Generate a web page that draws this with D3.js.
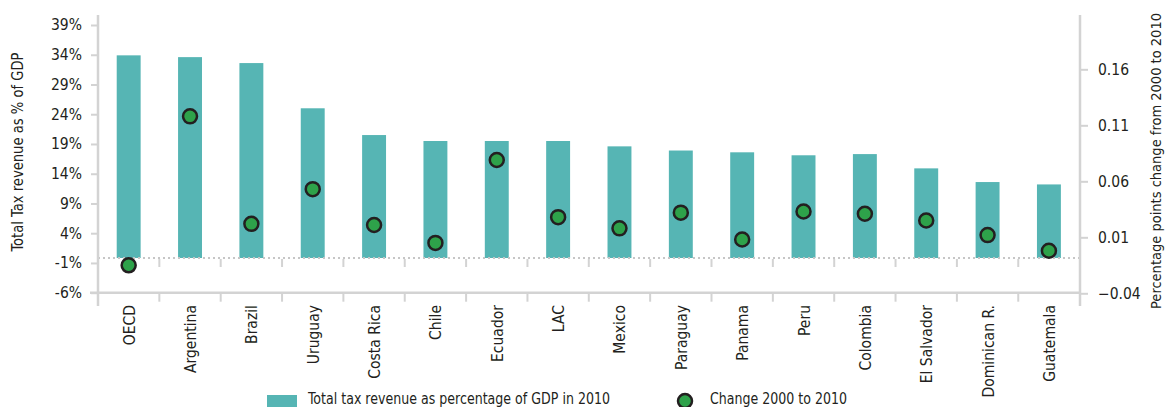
<!DOCTYPE html>
<html>
<head>
<meta charset="utf-8">
<script src="https://cdn.jsdelivr.net/npm/d3@7"></script>
<style>
  html, body { margin: 0; padding: 0; background: #fff; }
  svg { display: block; }
  text { font-family: 'Liberation Sans Narrow', 'DejaVu Sans Condensed', 'DejaVu Sans', sans-serif; font-stretch: condensed; fill: #231f20; }
</style>
</head>
<body>
<svg id="chart" width="1170" height="407"></svg>
<script>
const categories = ["OECD","Argentina","Brazil","Uruguay","Costa Rica","Chile","Ecuador","LAC","Mexico","Paraguay","Panama","Peru","Colombia","El Salvador","Dominican R.","Guatemala"];
const taxRevenue2010 = [33.9, 33.6, 32.6, 25.0, 20.5, 19.5, 19.5, 19.5, 18.6, 17.9, 17.6, 17.1, 17.3, 14.9, 12.6, 12.2];
const change2000to2010 = [-0.015, 0.118, 0.022, 0.053, 0.021, 0.005, 0.079, 0.028, 0.018, 0.032, 0.008, 0.033, 0.031, 0.025, 0.012, -0.002];
const leftTicks = [-6, -1, 4, 9, 14, 19, 24, 29, 34, 39];
const rightTicks = [-0.04, 0.01, 0.06, 0.11, 0.16];
const leftTitle = "Total Tax revenue as % of GDP";
const rightTitle = "Percentage points change from 2000 to 2010";
const legendBar = "Total tax revenue as percentage of GDP in 2010";
const legendDot = "Change 2000 to 2010";

const svg = d3.select("#chart");
const axisColor = "#d3d3d3";
const barColor = "#56b5b4";
const dotFill = "#2ea24a";
const dotStroke = "#231f20";
const fontSize = 15.5;

const x = d3.scaleBand().domain(categories).range([98, 1079.6]).padding(0);
const yL = d3.scaleLinear().domain([-6, 39]).range([292.7, 25]);
const yR = d3.scaleLinear().domain([-0.04, 0.16]).range([293.3, 69.3]);
const bw = x.bandwidth();
const barW = bw * 0.39;

// bars
svg.append("g").selectAll("rect").data(categories).join("rect")
  .attr("x", (d) => x(d) + bw / 2 - barW / 2)
  .attr("width", barW)
  .attr("y", (d, i) => yL(Math.max(0, taxRevenue2010[i])))
  .attr("height", (d, i) => Math.abs(yL(taxRevenue2010[i]) - yL(0)) + 1)
  .attr("fill", barColor);

// dotted zero line
const zeroY = yL(0) + 1;
svg.append("line")
  .attr("x1", 98).attr("x2", 1080)
  .attr("y1", zeroY).attr("y2", zeroY)
  .attr("stroke", "#c6c6c6").attr("stroke-width", 2)
  .attr("stroke-dasharray", "2,3");

// boundaries
const bounds = categories.map(c => x(c)).concat([x.range()[1]]);
svg.append("g").selectAll("line").data(bounds.slice(1, -1)).join("line")
  .attr("x1", d => d).attr("x2", d => d)
  .attr("y1", zeroY + 1).attr("y2", zeroY + 9)
  .attr("stroke", axisColor).attr("stroke-width", 2);

// bottom axis
const bottomY = 292.7;
svg.append("line").attr("x1", 90).attr("x2", 1080)
  .attr("y1", bottomY).attr("y2", bottomY)
  .attr("stroke", axisColor).attr("stroke-width", 2.5);
svg.append("g").selectAll("line").data(bounds.slice(1, -1)).join("line")
  .attr("x1", d => d).attr("x2", d => d)
  .attr("y1", bottomY).attr("y2", bottomY + 9)
  .attr("stroke", axisColor).attr("stroke-width", 2);

// x labels
svg.append("g").selectAll("text").data(categories).join("text")
  .attr("transform", d => `translate(${x(d) + bw / 2 + 6},305) rotate(-90)`)
  .attr("text-anchor", "end")
  .attr("font-size", fontSize)
  .text(d => d);

// left axis
const gL = svg.append("g").attr("transform", "translate(98,0)")
  .call(d3.axisLeft(yL).tickValues(leftTicks).tickFormat(d => d + "%").tickSize(7).tickPadding(9));
gL.select(".domain").remove();
gL.selectAll(".tick line").attr("stroke", axisColor).attr("stroke-width", 2);
gL.selectAll(".tick text").attr("font-size", fontSize).attr("font-family", null).attr("fill", "#231f20");
svg.append("line").attr("x1", 98).attr("x2", 98).attr("y1", 15).attr("y2", 306)
  .attr("stroke", axisColor).attr("stroke-width", 2.5);

// right axis
const gR = svg.append("g").attr("transform", "translate(1080,0)")
  .call(d3.axisRight(yR).tickValues(rightTicks).tickFormat(d => d3.format(".2f")(d)).tickSize(8).tickPadding(10));
gR.select(".domain").remove();
gR.selectAll(".tick line").attr("stroke", axisColor).attr("stroke-width", 2);
gR.selectAll(".tick text").attr("font-size", fontSize).attr("font-family", null).attr("fill", "#231f20");
svg.append("line").attr("x1", 1080).attr("x2", 1080).attr("y1", 15).attr("y2", 306)
  .attr("stroke", axisColor).attr("stroke-width", 2.5);

// dots
svg.append("g").selectAll("circle").data(categories).join("circle")
  .attr("cx", d => x(d) + bw / 2)
  .attr("cy", (d, i) => yR(change2000to2010[i]))
  .attr("r", 7)
  .attr("fill", dotFill).attr("stroke", dotStroke).attr("stroke-width", 2.5);

// axis titles
svg.append("text")
  .attr("transform", "translate(23,152) rotate(-90)")
  .attr("text-anchor", "middle").attr("font-size", fontSize)
  .attr("textLength", 199).attr("lengthAdjust", "spacingAndGlyphs")
  .text(leftTitle);
svg.append("text")
  .attr("transform", "translate(1161,161) rotate(-90)")
  .attr("text-anchor", "middle").attr("font-size", 14)
  .attr("textLength", 296).attr("lengthAdjust", "spacingAndGlyphs")
  .text(rightTitle);

// legend
svg.append("rect").attr("x", 267).attr("y", 395).attr("width", 30).attr("height", 14).attr("fill", barColor);
svg.append("text").attr("x", 308).attr("y", 404).attr("font-size", fontSize)
  .attr("textLength", 302).attr("lengthAdjust", "spacingAndGlyphs")
  .text(legendBar);
svg.append("circle").attr("cx", 685).attr("cy", 401).attr("r", 7)
  .attr("fill", dotFill).attr("stroke", dotStroke).attr("stroke-width", 2.5);
svg.append("text").attr("x", 710).attr("y", 404).attr("font-size", fontSize)
  .attr("textLength", 137).attr("lengthAdjust", "spacingAndGlyphs")
  .text(legendDot);
</script>
</body>
</html>
